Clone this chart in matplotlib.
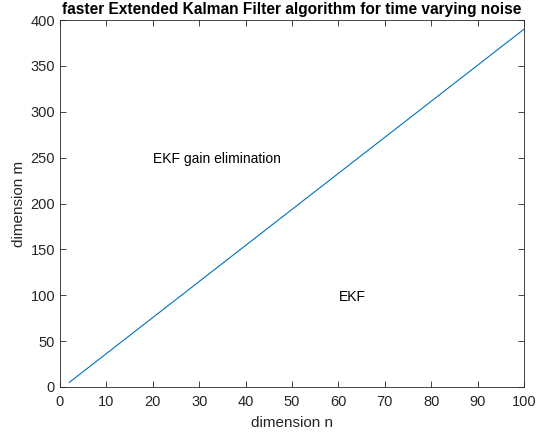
import numpy as np
import matplotlib.pyplot as plt

plt.rcParams['font.family'] = ['Liberation Sans', 'DejaVu Sans']

# boundary between the two regions
n = [2, 100]
m = [5, 390]

x_ticks = list(range(0, 101, 10))
y_ticks = list(range(0, 401, 50))

fig = plt.figure(figsize=(5.37, 4.34), dpi=100)
ax = fig.add_axes([0.1117, 0.1083, 0.8641, 0.8456])

ax.plot(n, m, color='#0072BD', linewidth=0.8)
ax.text(20, 248, 'EKF gain elimination', fontsize=10, va='center', ha='left')
ax.text(60, 98, 'EKF', fontsize=10, va='center', ha='left')

ax.set_xlim(0, 100)
ax.set_ylim(0, 400)
ax.set_xticks(x_ticks)
ax.set_yticks(y_ticks)
ax.tick_params(direction='in', top=True, right=True, labelsize=10.5,
               colors='#262626', length=4, width=0.6)
ax.tick_params(axis='x', pad=6)
for s in ax.spines.values():
    s.set_color('#262626')
    s.set_linewidth(0.6)

ax.set_xlabel('dimension n', fontsize=11, color='#262626', labelpad=5)
ax.set_ylabel('dimension m', fontsize=11, color='#262626', labelpad=3)
ax.set_title('faster Extended Kalman Filter algorithm for time varying noise',
             fontsize=11.2, fontweight='bold', pad=4)

fig.savefig('out.png', dpi=100)
